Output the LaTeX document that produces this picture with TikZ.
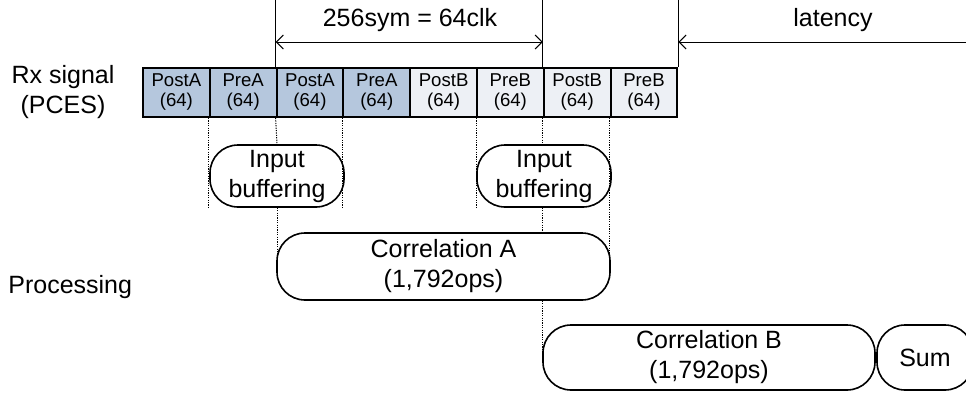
\documentclass[tikz,border=0pt]{standalone}
\usepackage{fontspec}
\setmainfont{Liberation Sans}
\usetikzlibrary{arrows.meta}

\definecolor{cellA}{HTML}{B5C7DD}
\definecolor{cellB}{HTML}{EDF0F5}

\begin{document}
\begin{tikzpicture}[x=0.5pt,y=-0.5pt,
  >={Straight Barb[length=3.5pt,width=7pt]},
  cell/.style={draw,line width=1pt,minimum width=33.4pt,minimum height=24.5pt,
    inner sep=0pt,align=center,font=\fontsize{9.3}{10}\selectfont},
  proc/.style={draw,line width=0.8pt,rounded corners=14pt,inner sep=0pt,
    align=center,font=\fontsize{12.5}{15}\selectfont},
  lbl/.style={font=\fontsize{12.5}{15}\selectfont,align=center,inner sep=0pt},
  guide/.style={line width=0.5pt,dash pattern=on 0.6pt off 0.6pt},
  tick/.style={line width=0.5pt}]
  \useasboundingbox (0,0) rectangle (966,392);

  % Rx signal cells
  \foreach \i/\t/\f in {1/PostA/cellA,2/PreA/cellA,3/PostA/cellA,4/PreA/cellA,
                        5/PostB/cellB,6/PreB/cellB,7/PostB/cellB,8/PreB/cellB} {
    \node[cell,fill=\f] (c\i) at ({143+66.8*(\i-0.5)},92.5) {\t\\(64)};
  }

  % Labels
  \node[lbl] (rx) at (63,92) {Rx signal\\(PCES)};
  \node[lbl,anchor=west] (proc) at (8,287) {Processing};
  \node[lbl] (sym) at (410,20) {256sym = 64clk};
  \node[lbl] (lat) at (833,20) {latency};

  % Processing blocks
  \node[proc,minimum width=67pt,minimum height=31pt] (in1) at (277,176) {Input\\buffering};
  \node[proc,minimum width=67pt,minimum height=31pt] (in2) at (544,176) {Input\\buffering};
  \node[proc,minimum width=166.5pt,minimum height=33.5pt] (corrA) at (443.5,266.5) {Correlation A\\(1,792ops)};
  \node[proc,minimum width=166pt,minimum height=32.5pt] (corrB) at (709,357.5) {Correlation B\\(1,792ops)};
  \node[proc,minimum width=48pt,minimum height=32.5pt] (sum) at (925,357.5) {Sum};

  % Time marks
  \coordinate (top) at (0,0);
  \coordinate (dim) at (0,42);
  \coordinate (edge) at (966,42);
  \draw[tick] (c3.north west |- top) -- (c3.north west);
  \draw[tick] (c7.north west |- top) -- (c7.north west);
  \draw[tick] (c8.north east |- top) -- (c8.north east);
  \draw[tick,<->] (c3.north west |- dim) -- (c7.north west |- dim);
  \draw[tick,<-] (c8.north east |- dim) -- (edge);

  % Guide lines
  \draw[guide] (c2.south west) -- (c2.south west |- in1.south);
  \draw[guide] (c3.south west) -- (in1.north);
  \draw[guide] (c4.south west) -- (c4.south west |- in1.south);
  \draw[guide] (c6.south west) -- (c6.south west |- in2.south);
  \draw[guide] (c7.south west) -- (c7.south west |- in2.north);
  \draw[guide] (c8.south west) -- (c8.south west |- corrA.east);
  \draw[guide] (in1.south) -- (in1.south |- corrA.west);
  \draw[guide] (c7.south west |- in2.south) -- (c7.south west |- corrA.north);
  \draw[guide] (c7.south west |- corrA.south) -- (c7.south west |- corrB.west);

\end{tikzpicture}
\end{document}
